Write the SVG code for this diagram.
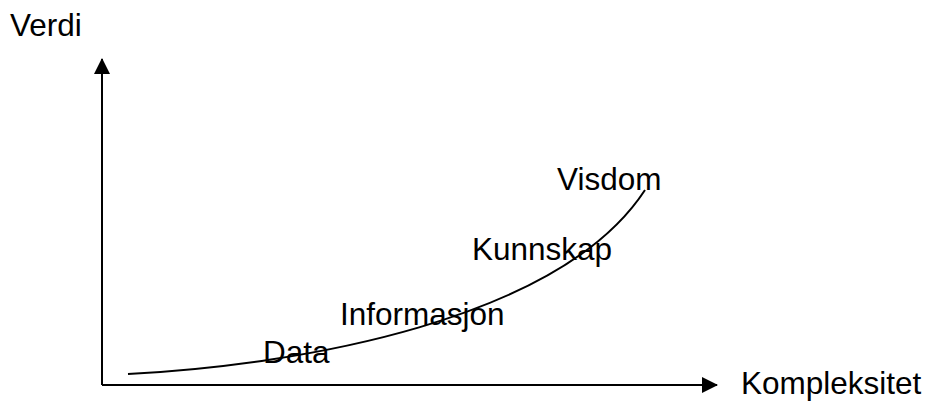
<svg xmlns="http://www.w3.org/2000/svg" width="928" height="405" viewBox="0 0 928 405">
<defs>
<style>
text{font-family:"Liberation Sans",Arial,sans-serif;font-size:31.5px;fill:#000}
.ax{stroke:#000;stroke-width:2;fill:none}
</style>
<marker id="ah" viewBox="0 0 16 16" refX="15" refY="8" markerWidth="16" markerHeight="16" markerUnits="userSpaceOnUse" orient="auto"><path d="M0,0 L16,8 L0,16 Z" fill="#000"/></marker>
</defs>
<rect width="928" height="405" fill="#fff"/>
<g id="connectors">
<path class="ax" d="M102,385 L102,59" marker-end="url(#ah)"/>
<path class="ax" d="M102,385 L717,385" marker-end="url(#ah)"/>
<path id="curve" d="M128,374 C300,365 560,320 645,190" fill="none" stroke="#000" stroke-width="2"/>
</g>
<g id="verdi"><text x="10" y="36">Verdi</text></g>
<g id="kompleksitet"><text x="741" y="394">Kompleksitet</text></g>
<g id="visdom"><text x="557" y="190">Visdom</text></g>
<g id="kunnskap"><text x="472" y="260">Kunnskap</text></g>
<g id="informasjon"><text x="340" y="325">Informasjon</text></g>
<g id="data"><text x="263" y="363">Data</text></g>
</svg>
